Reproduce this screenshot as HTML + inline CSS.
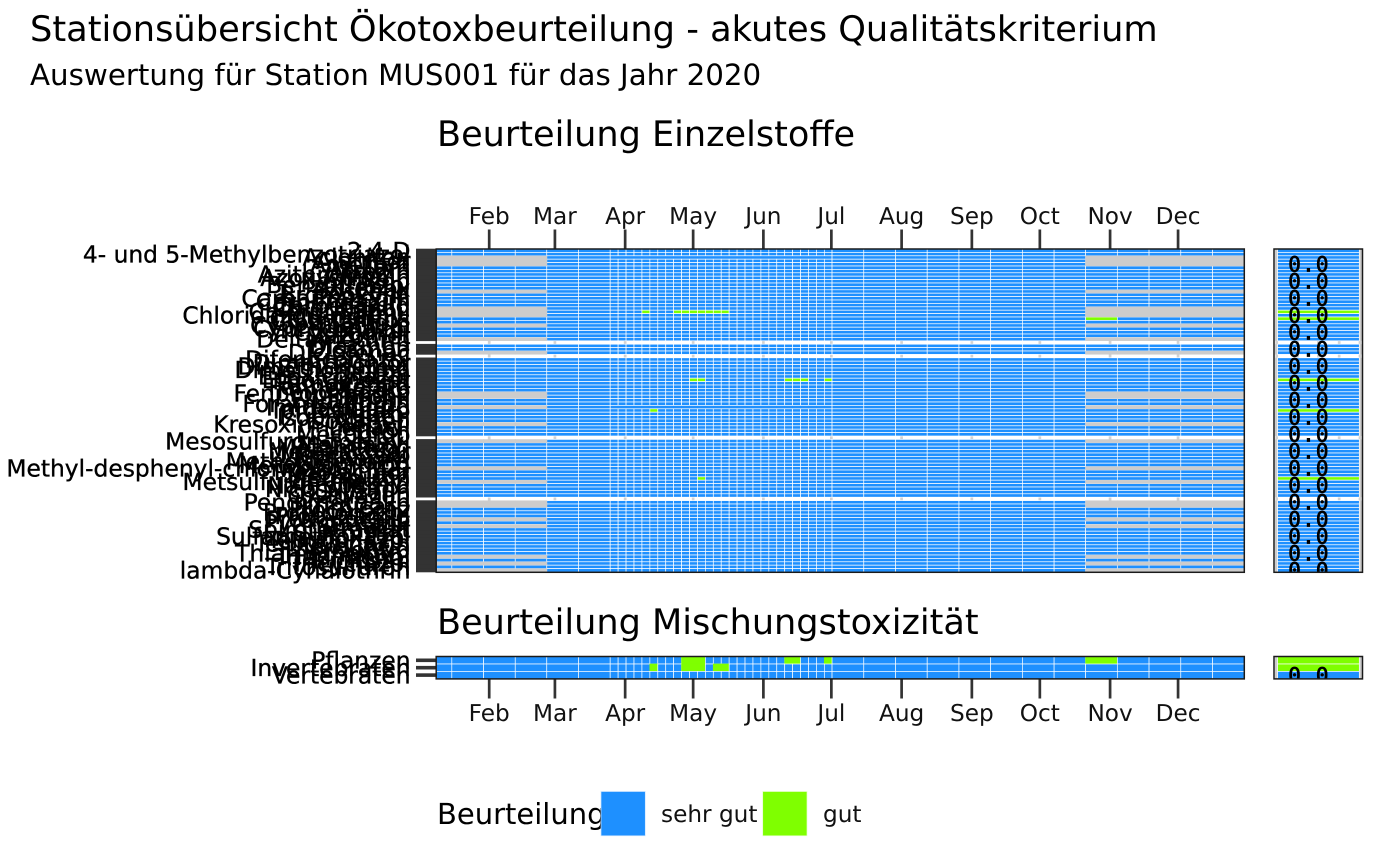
<!DOCTYPE html>
<html lang="de">
<head>
<meta charset="utf-8">
<title>Stationsübersicht Ökotoxbeurteilung</title>
<style>
html,body{margin:0;padding:0;background:#fff;}
svg{display:block;}
text{font-family:"DejaVu Sans","Liberation Sans",sans-serif;fill:#000;text-rendering:geometricPrecision;}
.tick{font-size:23.2px;fill:#111;}
.ylab{font-size:23.35px;fill:#000;stroke:#000;stroke-width:.35px;}
.val{font-family:"DejaVu Sans Mono","Liberation Mono",monospace;font-size:21px;letter-spacing:1.2px;stroke:#000;stroke-width:.7px;}
</style>
</head>
<body>
<svg id="chart" xmlns="http://www.w3.org/2000/svg" width="1400" height="866" viewBox="0 0 1400 866">
  <defs>
    <clipPath id="clipSide"><rect x="1274" y="249" width="88.5" height="323.4"/></clipPath>
    <clipPath id="clipSideMix"><rect x="1274" y="656.5" width="88.5" height="22.4"/></clipPath>
  </defs>
  <text x="30" y="41" font-size="35.2">Stationsübersicht Ökotoxbeurteilung - akutes Qualitätskriterium</text>
  <text x="30" y="85" font-size="29.3">Auswertung für Station MUS001 für das Jahr 2020</text>
  <text x="437" y="146" font-size="35.1">Beurteilung Einzelstoffe</text>
  <text x="437" y="634" font-size="35.1">Beurteilung Mischungstoxizität</text>
  <g id="plots"></g>
  <g id="legend">
    <text x="437" y="824" font-size="29">Beurteilung</text>
    <rect x="601" y="791.5" width="44.3" height="44.3" fill="#1E90FF" stroke="#cfe6ff" stroke-width=".7"/>
    <text x="661" y="822" class="tick">sehr gut</text>
    <rect x="762.7" y="791.5" width="44.3" height="44.3" fill="#7FFF00" stroke="#e5ffcc" stroke-width=".7"/>
    <text x="823" y="822" class="tick">gut</text>
  </g>
</svg>
<script>
// ---------- data ----------
const monthLabels = ['Feb','Mar','Apr','May','Jun','Jul','Aug','Sep','Oct','Nov','Dec'];
const monthDays = [32,61,92,122,153,183,214,245,275,306,336];
const sampleDays = [8.8,15.5,29.5,43.5,57.4,71.4,85.4,88.9,92.4,95.9,99.4,102.9,106.4,109.9,113.4,116.9,120.4,123.9,127.4,130.9,134.4,137.9,141.4,144.9,148.4,151.9,155.4,158.9,162.4,165.9,169.4,172.9,176.4,179.9,183.3,197.3,211.3,225.3,239.3,253.3,267.3,281.3,295.2,309.2,323.2,337.2,351.2,365.2];
const substances = ['2,4-D','4- und 5-Methylbenzotriazol','Aclonifen','Alachlor','Ametryn','Asulam','Atrazin','Azithromycin','Azoxystrobin','Bentazon','Benzotriazol','Bifenox','Boscalid','Bromoxynil','Carbamazepin','Carbendazim','Carbetamid','Chloridazon','Chlorothalonil','Chloridazon-methyl','Chlorpyrifos','Clothianidin','Cypermethrin','Cyproconazol','Cyprodinil','Dazomet','Deltamethrin','','Diazinon','Dicamba','Diclofenac','','Difenoconazol','Dimethachlor','Dimethenamid','Dimethomorph','Diuron','Epoxiconazol','Ethofumesat','Famoxadon','Fenhexamid','Fenoxycarb','Fenpropimorph','Fipronil','Fluazinam','Foramsulfuron','Imidacloprid','Iprovalicarb','Irgarol','Isoproturon','Isoxaben','Kresoxim-methyl','Lenacil','Linuron','Mecoprop','','Mesosulfuron-methyl','Metalaxyl','Metamitron','Metazachlor','Methiocarb','Methomyl','Methoxyfenozid','Metobromuron','Methyl-desphenyl-chloridazon(M2)','Metolachlor','Metoxuron','Metribuzin','Metsulfuron-methyl','Napropamid','Nicosulfuron','Oryzalin','Oxadiazon','','Pendimethalin','Pirimicarb','Prochloraz','Propiconazol','Propyzamid','Prosulfocarb','Pyrimethanil','Simazin','Spirotetramat','Sulcotrion','Sulfamethoxazol','Tebuconazol','Terbuthylazin','Terbutryn','Thiacloprid','Thiamethoxam','Triadimenol','Triclosan','Tricyclazol','Tritosulfuron','lambda-Cyhalothrin'];
const greyRows = [2,3,4,12,17,18,19,22,26,30,42,43,46,51,56,64,68,74,75,79,81,90,92,94];
const greyColumns = [0,1,2,3,42,43,44,45,46];
const coarseRows = [2,46];
const coarseFromColumn = [6];
const coarseToColumn = [33];
const gutRows = [18,18,18,18,18,18,18,18,20,38,38,38,38,38,38,47,67];
const gutColumns = [10,14,15,16,17,18,19,20,42,16,17,28,29,30,33,11,17];
const sideValues = [0,0,0,0,0,0,0,0,0,0,0,0,0,0,0,0,0,0,0,0,0,0,0,0,0,0,0,0,0,0,0,0,0,0,0,0,0,0,0,0,0,0,0,0,0,0,0,0,0,0,0,0,0,0,0,0,0,0,0,0,0,0,0,0,0,0,0,0,0,0,0,0,0,0,0,0,0,0,0,0,0,0,0,0,0,0,0,0,0,0,0,0,0,0,0];
const sideGutRows = [18,20,38,47,67];
const sideGridValues = [0,0.25,0.5,0.75,1];
const mixGroups = ['Pflanzen','Invertebraten','Vertebraten'];
const mixGutRows = [1,0,0,0,1,1,1,1,1,0,0,0,0];
const mixGutColumns = [11,15,16,17,15,16,17,19,20,28,29,33,42];
const mixSideGutRows = [0,1];
const mixSideValues = [0.6,0.6,0.0];

// ---------- scales ----------
const SVGNS = 'http://www.w3.org/2000/svg';
const plots = document.getElementById('plots');
const BLUE = '#1E90FF', GREEN = '#7FFF00', GREY = '#CCCCCC', DARK = '#333333';
function xDay(d){ return 489.2 + (d - 32) * 2.266; }
const panelTop = 249, rowH = 3.4, panelBottom = 572.3, left = 436.2, right = 1244.3;
function yRow(i){ return panelTop + i * rowH; }
const mixTop = 656.6, mixRowH = 7.4, mixBottom = 678.9;
function yMix(i){ return mixTop + i * mixRowH; }
const sideLeft = 1274, sideRight = 1362.5;
function xSideGrid(v){ return 1276.7 + v * 83.3; }

function mk(tag, attrs, parent){
  const el = document.createElementNS(SVGNS, tag);
  for (const k in attrs) el.setAttribute(k, attrs[k]);
  parent.appendChild(el);
  return el;
}
function group(name){
  const g = mk('g', {}, plots);
  
  
  return g;
}
function tile(parent, x0, x1, y0, y1, fill, stroke, name){
  const r = mk('rect', {x:x0, y:y0, width:x1-x0, height:y1-y0, fill:fill, stroke:stroke, 'stroke-width':0.7}, parent);
  
  
  return r;
}

// ---------- grid ----------
const gridG = group('grid-lines');
monthDays.forEach(function(d){
  const a = mk('line', {x1:xDay(d), x2:xDay(d), y1:panelTop, y2:panelBottom, stroke:'#d2d2d2', 'stroke-width':2.7}, gridG);
  
  
});
sideGridValues.forEach(function(v){
  const a = mk('line', {x1:xSideGrid(v), x2:xSideGrid(v), y1:panelTop, y2:panelBottom, stroke:'#d2d2d2', 'stroke-width':2.7}, gridG);
  
  
});

// ---------- single substances heatmap ----------
const cellG = group('single-substances-heatmap');
const greyG = group('missing-data-tiles');
const coarseFrom = coarseFromColumn[0], coarseTo = coarseToColumn[0];
function isGut(rows, cols, r, c){
  for (let k = 0; k < rows.length; k++) if (rows[k] === r && cols[k] === c) return true;
  return false;
}
substances.forEach(function(name, r){
  if (name === '') return;
  const y0 = yRow(r), y1 = yRow(r + 1);
  const coarse = coarseRows.indexOf(r) >= 0;
  const grey = greyRows.indexOf(r) >= 0;
  for (let c = 0; c < sampleDays.length - 1; c++){
    const isMissing = grey && greyColumns.indexOf(c) >= 0;
    if (isMissing){
      tile(greyG, xDay(sampleDays[c]), xDay(sampleDays[c + 1]), y0 + 0.2, y1 - 0.2, GREY, GREY, 'missing-cell');
      continue;
    }
    if (coarse && c >= coarseFrom && c <= coarseTo){
      if (c === coarseFrom) tile(cellG, xDay(sampleDays[coarseFrom]), xDay(sampleDays[coarseTo + 1]), y0, y1, BLUE, '#ffffff', 'heatmap-cell');
      continue;
    }
    const gut = isGut(gutRows, gutColumns, r, c);
    tile(cellG, xDay(sampleDays[c]), xDay(sampleDays[c + 1]), y0, y1, gut ? GREEN : BLUE, '#ffffff', gut ? 'heatmap-cell-gut' : 'heatmap-cell');
  }
});

// ---------- y ticks & labels ----------
const ytG = group('single-substances-y-axis');
substances.forEach(function(name, r){
  if (name === '') return;
  const cy = yRow(r + 0.5);
  const t = mk('rect', {x:416, y:cy - 2, width:20.5, height:4, fill:DARK}, ytG);
  
  
  const l = mk('text', {x:410.5, y:cy + 8.2, 'text-anchor':'end', class:'ylab'}, ytG);
  
  
  l.textContent = name;
});

// ---------- month axes ----------
const xtG = group('month-axes');
monthLabels.forEach(function(m, i){
  const x = xDay(monthDays[i]);
  const t1 = mk('line', {x1:x, x2:x, y1:229.5, y2:248.5, stroke:DARK, 'stroke-width':2.7}, xtG);
  
  
  const l1 = mk('text', {x:x, y:224, 'text-anchor':'middle', class:'tick'}, xtG);
  
  
  l1.textContent = m;
  const t2 = mk('line', {x1:x, x2:x, y1:679.5, y2:698.5, stroke:DARK, 'stroke-width':2.7}, xtG);
  
  
  const l2 = mk('text', {x:x, y:721, 'text-anchor':'middle', class:'tick'}, xtG);
  
  
  l2.textContent = m;
});

// ---------- side panel ----------
const sideG = group('single-substances-side-panel');
substances.forEach(function(name, r){
  if (name === '') return;
  const s = mk('rect', {x:1275, y:yRow(r), width:87, height:rowH, fill:GREY}, sideG);
  
  
  const gut = sideGutRows.indexOf(r) >= 0;
  tile(sideG, 1277.6, 1359.3, yRow(r), yRow(r + 1), gut ? GREEN : BLUE, '#ffffff', gut ? 'side-cell-gut' : 'side-cell');
});
const sideTextG = group('single-substances-side-values');
sideTextG.setAttribute('clip-path', 'url(#clipSide)');
sideValues.forEach(function(v, r){
  if ((94 - r) % 5 !== 0) return;
  const t = mk('text', {x:1309, y:yRow(r + 0.5) + 7.4, 'text-anchor':'middle', class:'val'}, sideTextG);
  
  
  t.textContent = v.toFixed(1);
});

// ---------- mixture heatmap ----------
const mixG = group('mixture-heatmap');
mixGroups.forEach(function(name, r){
  const y0 = yMix(r), y1 = yMix(r + 1);
  for (let c = 0; c < sampleDays.length - 1; c++){
    const gut = isGut(mixGutRows, mixGutColumns, r, c);
    tile(mixG, xDay(sampleDays[c]), xDay(sampleDays[c + 1]), y0, y1, gut ? GREEN : BLUE, gut ? GREEN : '#ffffff', gut ? 'mixture-cell-gut' : 'mixture-cell');
  }
  const cy = yMix(r + 0.5);
  const t = mk('rect', {x:416, y:cy - 1.8, width:20.5, height:3.6, fill:DARK}, mixG);
  
  
  const l = mk('text', {x:410.5, y:cy + 8.4, 'text-anchor':'end', class:'ylab'}, mixG);
  
  
  l.textContent = name;
  const s = mk('rect', {x:1275, y:y0, width:87, height:mixRowH, fill:GREY}, mixG);
  
  
  const sideGut = mixSideGutRows.indexOf(r) >= 0;
  tile(mixG, 1277.6, 1359.3, y0, y1, sideGut ? GREEN : BLUE, '#ffffff', sideGut ? 'mixture-side-cell-gut' : 'mixture-side-cell');
});
const mixTextG = group('mixture-side-values');
mixTextG.setAttribute('clip-path', 'url(#clipSideMix)');
mixSideValues.forEach(function(v, r){
  if (r !== 2) return;
  const t = mk('text', {x:1309, y:yMix(r + 0.5) + 7.4, 'text-anchor':'middle', class:'val'}, mixTextG);
  
  
  t.textContent = v.toFixed(1);
});

// ---------- panel frames ----------
const frameG = group('panel-frames');
[[left, right, panelTop, panelBottom, 'main-panel-frame'],
 [sideLeft, sideRight, panelTop, panelBottom, 'side-panel-frame'],
 [left, right, mixTop - 0.1, mixBottom, 'mixture-panel-frame'],
 [sideLeft, sideRight, mixTop - 0.1, mixBottom, 'mixture-side-panel-frame']].forEach(function(f){
  const r = mk('rect', {x:f[0], y:f[2], width:f[1] - f[0], height:f[3] - f[2], fill:'none', stroke:'#1a1a1a', 'stroke-width':1.5}, frameG);
  
  
});
</script>
</body>
</html>
